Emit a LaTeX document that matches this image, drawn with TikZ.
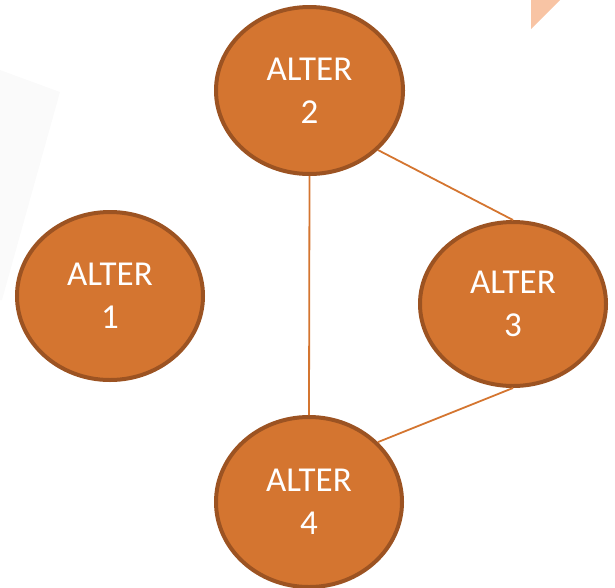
\documentclass[tikz,border=0pt]{standalone}
\usepackage{fontspec}
\setmainfont{Carlito}
\usetikzlibrary{shapes.geometric}
\definecolor{altfill}{HTML}{D47530}
\definecolor{altedge}{HTML}{9C5322}
\definecolor{peach}{HTML}{F8C4A4}
\begin{document}
\begin{tikzpicture}[x=1pt,y=-1pt,
  alter/.style={ellipse, draw=altedge, line width=4pt, fill=altfill,
    text=white, align=center, font=\fontsize{35}{43}\selectfont, inner sep=0pt},
  tie/.style={draw=altfill, line width=1.8pt}]
\useasboundingbox (0,0) rectangle (615,587);
% faint backdrop sheet and corner accent
\fill[black!2] (0,70) -- (60,92) -- (2,300) -- (0,300) -- cycle;
\fill[peach] (531,0) -- (560,0) -- (531,29) -- cycle;
% alters
\node[alter, minimum width=186pt, minimum height=168pt] (a1) at (110,296) {ALTER\\1};
\node[alter, minimum width=187pt, minimum height=167pt] (a2) at (309.5,90.5) {ALTER\\2};
\node[alter, minimum width=186pt, minimum height=164pt] (a3) at (513,304) {ALTER\\3};
\node[alter, minimum width=186pt, minimum height=170pt] (a4) at (309,502) {ALTER\\4};
% ties
\draw[tie] (a2.-41) -- (a3.north);
\draw[tie] (a2.south) -- (a4.north);
\draw[tie] (a3.south) -- (a4.41);
\end{tikzpicture}
\end{document}
